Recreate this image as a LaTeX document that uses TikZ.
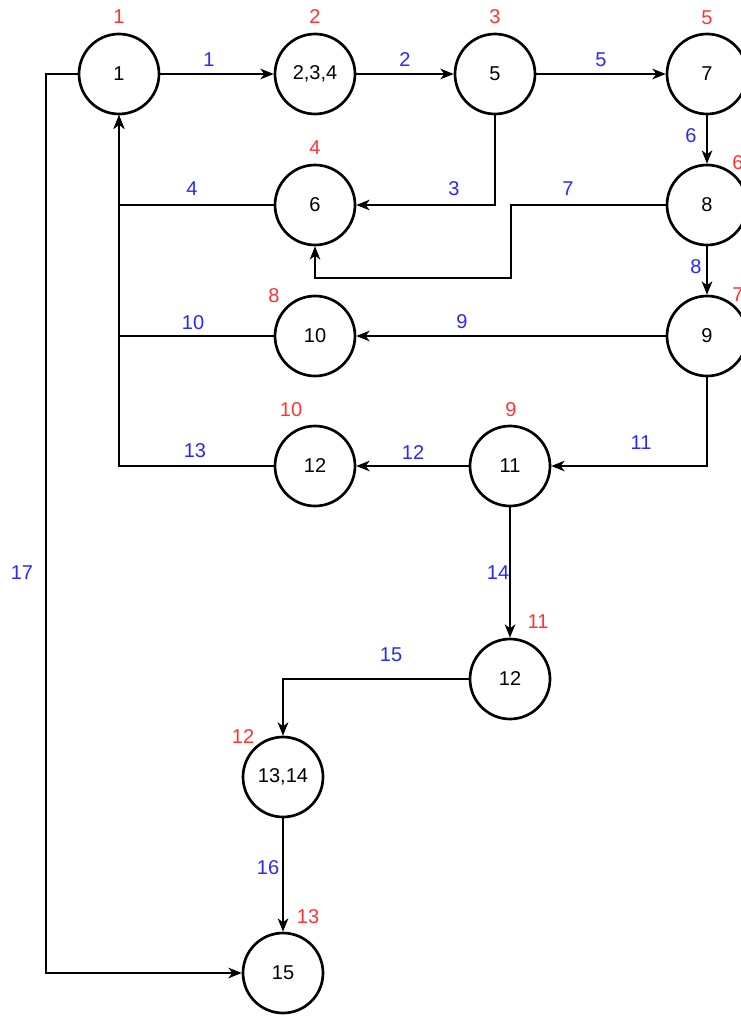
\documentclass[tikz,border=0pt]{standalone}
\usepackage{fontspec}
\setmainfont{Liberation Sans}
\usetikzlibrary{arrows.meta}

\definecolor{lblred}{RGB}{255,51,51}
\definecolor{lblblue}{RGB}{40,40,255}

\tikzset{every picture/.style={line width=1.15pt}}
\tikzset{
  blk/.style={circle, draw, line width=2pt, minimum size=60pt, inner sep=0pt, font=\fontsize{15}{18}\selectfont},
  pth/.style={-{Stealth[length=10pt,width=8pt,inset=3pt]}},
  ordr/.style={text=lblred, inner sep=0pt, font=\fontsize{15}{18}\selectfont},
  elbl/.style={text=lblblue, inner sep=0pt, font=\fontsize{15}{18}\selectfont}
}

\begin{document}
\begin{tikzpicture}[x=0.75pt,y=0.75pt,yscale=-1,xscale=1]
\useasboundingbox (0,0) rectangle (740,1016);

%Shape: Circle 
\node [blk] (n1) at (119,74) {1};
%Shape: Circle 
\node [blk] (n234) at (315,74) {2,3,4};
%Shape: Circle 
\node [blk] (n5) at (495,74) {5};
%Shape: Circle 
\node [blk] (n7) at (707,74) {7};
%Shape: Circle 
\node [blk] (n6) at (315,205) {6};
%Shape: Circle 
\node [blk] (n8) at (707,205) {8};
%Shape: Circle 
\node [blk] (n10) at (315,336) {10};
%Shape: Circle 
\node [blk] (n9) at (707,336) {9};
%Shape: Circle 
\node [blk] (n12) at (315,466) {12};
%Shape: Circle 
\node [blk] (n11) at (510,466) {11};
%Shape: Circle 
\node [blk] (n12b) at (510,679) {12};
%Shape: Circle 
\node [blk] (n1314) at (283,777) {13,14};
%Shape: Circle 
\node [blk] (n15) at (283,973) {15};

\coordinate (k7) at (511,278);
\coordinate (k17) at (46,573);

%Straight Lines 
\draw [pth] (n1) -- (n234);
%Straight Lines 
\draw [pth] (n234) -- (n5);
%Straight Lines 
\draw [pth] (n5) -- (n7);
%Straight Lines 
\draw [pth] (n7) -- (n8);
%Straight Lines 
\draw [pth] (n8) -- (n9);
%Straight Lines 
\draw [pth] (n9) -- (n10);
%Straight Lines 
\draw [pth] (n11) -- (n12);
%Straight Lines 
\draw [pth] (n11) -- (n12b);
%Straight Lines 
\draw [pth] (n1314) -- (n15);
%Straight Lines 
\draw [pth] (n5) |- (n6);
%Straight Lines 
\draw [pth] (n8) -| (k7) -| (n6);
%Straight Lines 
\draw [pth] (n6) -| (n1);
%Straight Lines 
\draw [pth] (n10) -| (n1);
%Straight Lines 
\draw [pth] (n12) -| (n1);
%Straight Lines 
\draw [pth] (n9) |- (n11);
%Straight Lines 
\draw [pth] (n12b) -| (n1314);
%Straight Lines 
\draw [pth] (n1) -| (k17) |- (n15);

% Text Node
\node [ordr] (r1) at (119,17) {1};
% Text Node
\node [ordr] (r2) at (315,17) {2};
% Text Node
\node [ordr] (r3) at (495,17) {3};
% Text Node
\node [ordr] (r5) at (707,18) {5};
% Text Node
\node [ordr] (r4) at (315,148) {4};
% Text Node
\node [ordr] (r6) at (738,163) {6};
% Text Node
\node [ordr] (r7) at (738,295) {7};
% Text Node
\node [ordr] (r8) at (274,296) {8};
% Text Node
\node [ordr] (r10) at (291,410) {10};
% Text Node
\node [ordr] (r9) at (511,410) {9};
% Text Node
\node [ordr] (r11) at (538,622) {11};
% Text Node
\node [ordr] (r12) at (243,737) {12};
% Text Node
\node [ordr] (r13) at (308,917) {13};

% Text Node
\node [elbl] (e1) at (209,60) {1};
% Text Node
\node [elbl] (e2) at (405,60) {2};
% Text Node
\node [elbl] (e5) at (601,60) {5};
% Text Node
\node [elbl] (e6) at (691,136) {6};
% Text Node
\node [elbl] (e3) at (454,189) {3};
% Text Node
\node [elbl] (e7) at (568,189) {7};
% Text Node
\node [elbl] (e4) at (192,189) {4};
% Text Node
\node [elbl] (e8) at (696,267) {8};
% Text Node
\node [elbl] (e9) at (462,322) {9};
% Text Node
\node [elbl] (e10) at (193,323) {10};
% Text Node
\node [elbl] (e11) at (641,443) {11};
% Text Node
\node [elbl] (e12) at (413,453) {12};
% Text Node
\node [elbl] (e13) at (195,451) {13};
% Text Node
\node [elbl] (e14) at (498,573) {14};
% Text Node
\node [elbl] (e15) at (391,655) {15};
% Text Node
\node [elbl] (e16) at (268,868) {16};
% Text Node
\node [elbl] (e17) at (22,573) {17};

\end{tikzpicture}
\end{document}
